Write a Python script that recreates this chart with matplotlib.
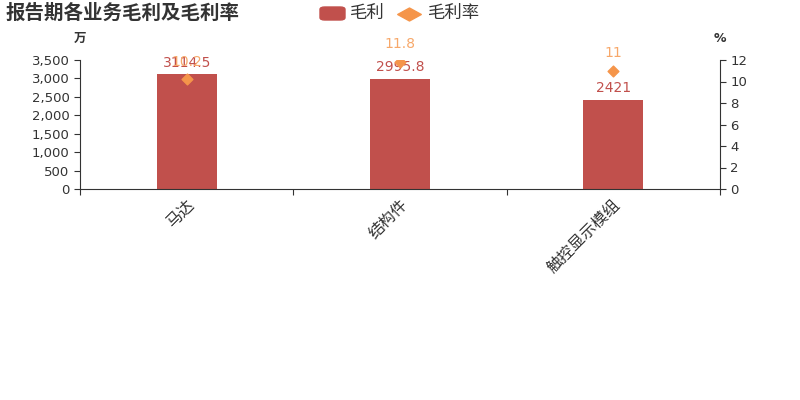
import matplotlib
matplotlib.use("Agg")
import matplotlib.pyplot as plt
from matplotlib.patches import FancyBboxPatch
from matplotlib.lines import Line2D
from matplotlib.path import Path

plt.rcParams['font.family'] = ['DejaVu Sans', 'Noto Sans CJK SC']

categories = ["马达", "结构件", "触控显示模组"]
gross_profit = [3114.5, 2995.8, 2421]
gross_margin = [10.2, 11.8, 11]
gp_labels = ["3114.5", "2995.8", "2421"]
gm_labels = ["10.2", "11.8", "11"]

bar_color = "#c1504c"
dot_color = "#f5954a"
dot_text = "#f7a86a"
text_color = "#333333"

fig = plt.figure(figsize=(8, 4), dpi=100)
ax = fig.add_axes([0.1, 0.5275, 0.8, 0.3225])
ax2 = ax.twinx()

x = list(range(len(categories)))
ax.bar(x, gross_profit, width=0.28, color=bar_color, zorder=2)
ax.set_xlim(-0.5, 2.5)
ax.set_ylim(0, 3500)
ax.set_yticks(range(0, 3501, 500))
ax.set_yticklabels([f"{v:,}" for v in range(0, 3501, 500)])
ax.set_xticks([-0.5, 0.5, 1.5, 2.5], minor=False)
ax.set_xticklabels([])
ax.set_xticks(x, minor=True)
ax.set_xticklabels(categories, minor=True, rotation=45, ha="right",
                   rotation_mode="anchor", fontsize=11.5, color=text_color)
ax.tick_params(axis="x", which="minor", length=0, pad=6)
ax.tick_params(axis="x", which="major", length=4, color=text_color)
ax.tick_params(axis="y", labelsize=9.5, colors=text_color, length=4)

for xi, v, lab in zip(x, gross_profit, gp_labels):
    ax.text(xi, v + 120, lab, ha="center", va="bottom", fontsize=10, color=bar_color)

ax2.scatter(x, gross_margin, marker="D", s=30, color=dot_color, zorder=3)
ax2.set_ylim(0, 12)
ax2.set_yticks(range(0, 13, 2))
ax2.tick_params(axis="y", labelsize=9.5, colors=text_color, length=4)
for xi, v, lab in zip(x, gross_margin, gm_labels):
    ax2.text(xi, v + 1.0, lab, ha="center", va="bottom", fontsize=10, color=dot_text)

for a in (ax, ax2):
    a.spines["top"].set_visible(False)
    for s in ("left", "right", "bottom"):
        a.spines[s].set_color(text_color)
ax.spines["right"].set_visible(False)
ax2.spines["left"].set_visible(False)
ax2.spines["bottom"].set_visible(False)

fig.text(80 / 800, 1 - 38 / 400, "万", ha="center", va="center", fontsize=9,
         color=text_color, fontweight="bold")
fig.text(720 / 800, 1 - 38 / 400, "%", ha="center", va="center", fontsize=9,
         color=text_color, fontweight="bold")

fig.text(5 / 800, 1 - 13 / 400, "报告期各业务毛利及毛利率", ha="left", va="center",
         fontsize=14, fontweight="bold", color=text_color)

# legend
fig.patches.append(FancyBboxPatch((320 / 800, 1 - 20 / 400), 25 / 800, 13 / 400,
                                  boxstyle="round,pad=0,rounding_size=0.006",
                                  transform=fig.transFigure, color=bar_color))
fig.text(350 / 800, 1 - 13 / 400, "毛利", ha="left", va="center", fontsize=12.5, color=text_color)
flat_diamond = Path([(-1, 0), (0, 0.55), (1, 0), (0, -0.55), (-1, 0)],
                    [Path.MOVETO, Path.LINETO, Path.LINETO, Path.LINETO, Path.CLOSEPOLY])
fig.lines.append(Line2D([408.5 / 800], [1 - 13.5 / 400], marker=flat_diamond, markersize=17,
                        color=dot_color, lw=0, transform=fig.transFigure))
fig.text(428 / 800, 1 - 13 / 400, "毛利率", ha="left", va="center", fontsize=12.5, color=text_color)

fig.savefig("out.png", dpi=100)
